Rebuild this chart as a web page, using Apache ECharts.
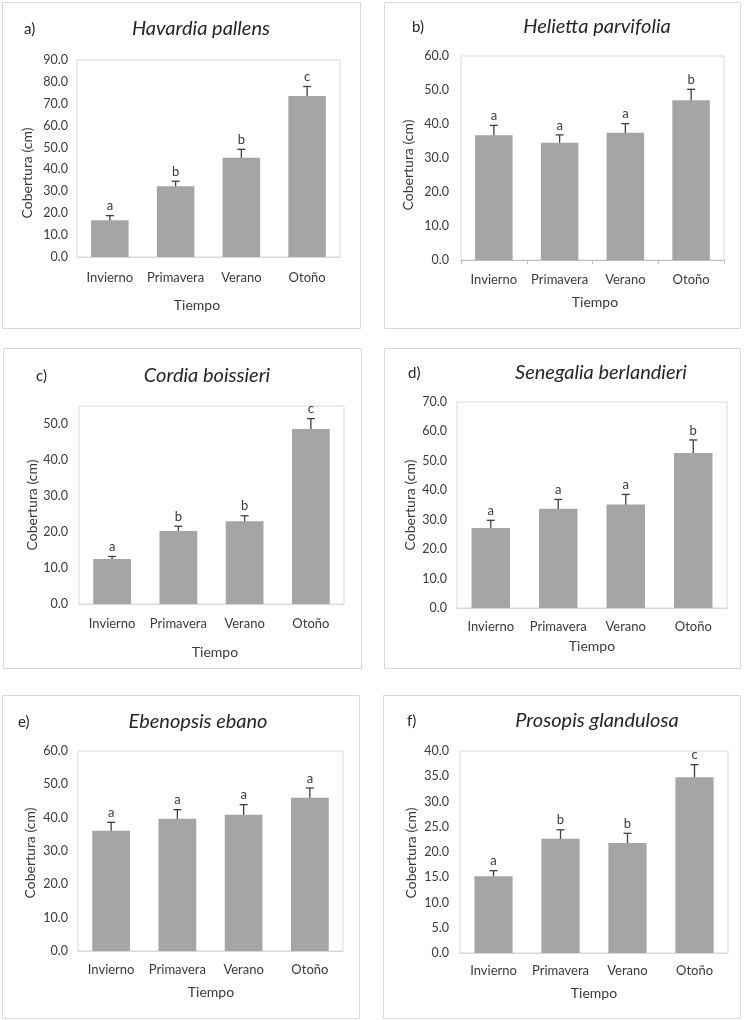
<!DOCTYPE html>
<html>
<head>
<meta charset="utf-8">
<script src="https://cdn.jsdelivr.net/npm/echarts@6/dist/echarts.min.js"></script>
<style>
html,body{margin:0;padding:0;background:#fff;}
#c{width:745px;height:1020px;}
</style>
</head>
<body>
<div id="c"></div>
<script>
// ---- data ----
const categories = ['Invierno', 'Primavera', 'Verano', 'Otoño'];

const havardiaMean = [16.8, 32.3, 45.3, 73.6];
const havardiaErr = [2.1, 2.3, 3.9, 4.3];
const havardiaLetters = ['a', 'b', 'b', 'c'];

const heliettaMean = [36.7, 34.5, 37.4, 47.0];
const heliettaErr = [2.9, 2.3, 2.7, 3.2];
const heliettaLetters = ['a', 'a', 'a', 'b'];

const cordiaMean = [12.5, 20.3, 23.0, 48.6];
const cordiaErr = [0.7, 1.3, 1.5, 2.9];
const cordiaLetters = ['a', 'b', 'b', 'c'];

const senegaliaMean = [27.2, 33.7, 35.2, 52.7];
const senegaliaErr = [2.6, 3.2, 3.4, 4.4];
const senegaliaLetters = ['a', 'a', 'a', 'b'];

const ebenopsisMean = [36.1, 39.7, 40.9, 46.0];
const ebenopsisErr = [2.5, 2.7, 3.0, 2.9];
const ebenopsisLetters = ['a', 'a', 'a', 'a'];

const prosopisMean = [15.2, 22.6, 21.8, 34.8];
const prosopisErr = [1.1, 1.8, 1.9, 2.5];
const prosopisLetters = ['a', 'b', 'b', 'c'];

const panelTags = ['a)', 'b)', 'c)', 'd)', 'e)', 'f)'];
const speciesNames = ['Havardia pallens', 'Helietta parvifolia', 'Cordia boissieri',
  'Senegalia berlandieri', 'Ebenopsis ebano', 'Prosopis glandulosa'];
const yMax = [90, 60, 55, 70, 60, 40];
const yInterval = [10, 10, 10, 10, 10, 5];
const xAxisTitle = 'Tiempo';
const yAxisTitle = 'Cobertura (cm)';

// ---- layout ----
const panels = [
  {means: havardiaMean, errs: havardiaErr, letters: havardiaLetters,
   box: [2, 2, 358, 326], grid: [77, 60, 263, 197], lblMargin: 9,
   tag: [24, 29], title: [201, 29], xName: [197, 305], yName: [27, 173], catGap: 20, ticks: false},
  {means: heliettaMean, errs: heliettaErr, letters: heliettaLetters,
   box: [384, 2, 356, 326], grid: [461, 56, 263, 204], lblMargin: 12,
   tag: [412, 27], title: [597, 27], xName: [595, 302], yName: [408, 165], catGap: 19, ticks: true},
  {means: cordiaMean, errs: cordiaErr, letters: cordiaLetters,
   box: [3, 348, 358, 320], grid: [79, 406, 265, 198], lblMargin: 11,
   tag: [36, 376], title: [207, 376], xName: [215, 652], yName: [32, 505], catGap: 19, ticks: false},
  {means: senegaliaMean, errs: senegaliaErr, letters: senegaliaLetters,
   box: [384, 348, 356, 320], grid: [457, 402, 270, 206], lblMargin: 10,
   tag: [408, 373], title: [601, 373], xName: [592, 646], yName: [410, 505], catGap: 18, ticks: false},
  {means: ebenopsisMean, errs: ebenopsisErr, letters: ebenopsisLetters,
   box: [2, 695, 357, 323], grid: [78, 751, 265, 200], lblMargin: 10,
   tag: [18, 722], title: [198, 722], xName: [211, 992], yName: [30, 853], catGap: 18, ticks: false},
  {means: prosopisMean, errs: prosopisErr, letters: prosopisLetters,
   box: [383, 695, 357, 323], grid: [460, 751, 268, 202], lblMargin: 11,
   tag: [407, 721], title: [597, 721], xName: [594, 993], yName: [411, 853], catGap: 17, ticks: false}
];

const FONT = 'Lato, "Open Sans", sans-serif';
const TXT = '#3a3a3a';
const grids = [], xAxes = [], yAxes = [], series = [], graphics = [];

panels.forEach((p, k) => {
  grids.push({left: p.grid[0], top: p.grid[1], width: p.grid[2], height: p.grid[3],
    show: true, borderColor: '#d9d9d9', borderWidth: 1, backgroundColor: 'transparent'});
  xAxes.push({type: 'category', gridIndex: k, data: categories,
    axisLine: {show: true, lineStyle: {color: p.ticks ? '#bfbfbf' : '#d9d9d9'}},
    axisTick: {show: p.ticks, length: 4, lineStyle: {color: '#bfbfbf'}},
    axisLabel: {interval: 0, color: TXT, fontFamily: FONT, fontSize: 13, margin: p.catGap - 6}
  });
  yAxes.push({type: 'value', gridIndex: k, min: 0, max: yMax[k], interval: yInterval[k],
    axisLine: {show: false}, axisTick: {show: false}, splitLine: {show: false},
    axisLabel: {color: TXT, fontFamily: FONT, fontSize: 12.5, margin: p.lblMargin,
      showMaxLabel: yMax[k] % yInterval[k] === 0,
      formatter: v => v.toFixed(1)}
  });
  series.push({type: 'bar', xAxisIndex: k, yAxisIndex: k, data: p.means,
    barWidth: '57%', itemStyle: {color: '#a5a5a5'}, silent: true});
  const errData = p.means.map((m, i) => [i, m + p.errs[i], m - p.errs[i]]);
  const letters = p.letters;
  series.push({type: 'custom', xAxisIndex: k, yAxisIndex: k, data: errData, silent: true,
    renderItem: (params, api) => {
      const hi = api.coord([api.value(0), api.value(1)]);
      const lo = api.coord([api.value(0), api.value(2)]);
      const c = 4;
      const ls = {stroke: '#3f3f3f', lineWidth: 1.3};
      return {type: 'group', children: [
        {type: 'line', shape: {x1: hi[0], y1: hi[1], x2: lo[0], y2: lo[1]}, style: ls},
        {type: 'line', shape: {x1: hi[0] - c, y1: hi[1], x2: hi[0] + c, y2: hi[1]}, style: ls},
        {type: 'line', shape: {x1: lo[0] - c, y1: lo[1], x2: lo[0] + c, y2: lo[1]}, style: ls},
        {type: 'text', style: {text: letters[params.dataIndex], x: hi[0], y: hi[1] - 3,
          align: 'center', verticalAlign: 'bottom', fill: TXT, font: '13px ' + FONT}}
      ]};
    }
  });
  graphics.push({type: 'rect', shape: {x: p.box[0] + 0.5, y: p.box[1] + 0.5, width: p.box[2], height: p.box[3]},
    style: {fill: 'none', stroke: '#d9d9d9', lineWidth: 1}, silent: true});
  graphics.push({type: 'text', x: p.tag[0], y: p.tag[1], style: {text: panelTags[k],
    fill: '#262626', font: '15px ' + FONT, align: 'left', verticalAlign: 'middle'}});
  graphics.push({type: 'text', x: p.title[0], y: p.title[1], style: {text: speciesNames[k],
    fill: '#262626', font: 'italic 20px ' + FONT, align: 'center', verticalAlign: 'middle'}});
  graphics.push({type: 'text', x: p.xName[0], y: p.xName[1], style: {text: xAxisTitle,
    fill: TXT, font: '14px ' + FONT, align: 'center', verticalAlign: 'middle'}});
  graphics.push({type: 'text', x: p.yName[0], y: p.yName[1], rotation: Math.PI / 2,
    style: {text: yAxisTitle, fill: TXT, font: '14px ' + FONT, align: 'center', verticalAlign: 'middle'}});
});

const chart = echarts.init(document.getElementById('c'));
chart.setOption({
  animation: false,
  backgroundColor: '#ffffff',
  grid: grids, xAxis: xAxes, yAxis: yAxes, series: series, graphic: graphics
});
</script>
</body>
</html>
